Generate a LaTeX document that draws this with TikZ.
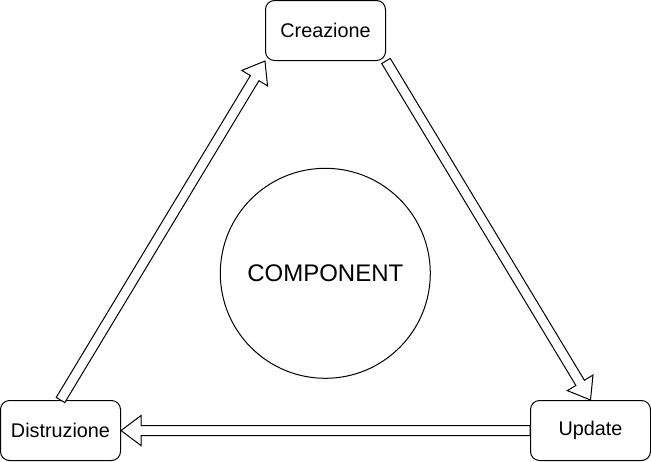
\documentclass[tikz,border=0pt]{standalone}
\usepackage{fontspec}
\setmainfont{Liberation Sans}
\usetikzlibrary{calc}

\begin{document}
\begin{tikzpicture}[x=1pt, y=-1pt, line width=1pt,
    fase/.style={draw, rounded corners=9pt, minimum width=120pt, minimum height=60pt, inner sep=0pt, font=\fontsize{19.8}{22}\selectfont},
    blockarrow/.style={draw, fill=white, line join=miter,
      to path={let \p1=(\tikztostart), \p2=(\tikztotarget),
        \n1={atan2(\y2-\y1,\x2-\x1)}, \n2={veclen(\x2-\x1,\y2-\y1)}, \n3={\n2-20pt} in
        ($(\p1)+(\n1+90:5pt)$) -- ++(\n1:\n3) -- ++(\n1+90:10pt) -- (\p2)
        -- ($(\p2)+(\n1+180:20pt)+(\n1-90:15pt)$) -- ++(\n1+90:10pt)
        -- ($(\p1)+(\n1-90:5pt)$) -- cycle}}]

    \useasboundingbox (0,0) rectangle (651,461);

    \node[fase] (cre) at (325.5, 30.5) {Creazione};
    \node[fase] (upd) at (590.5, 430.5) {Update};
    \node[fase] (dis) at (60.5, 430.5) {Distruzione};
    \node[draw, circle, minimum size=210pt, inner sep=0pt, font=\fontsize{24}{28}\selectfont] (comp) at (325.3, 273.3) {COMPONENT};

    \draw [blockarrow] (dis.north) to (cre.south west);
    \draw [blockarrow] (cre.south east) to (upd.north);
    \draw [blockarrow] (upd.west) to (dis.east);

\end{tikzpicture}
\end{document}
